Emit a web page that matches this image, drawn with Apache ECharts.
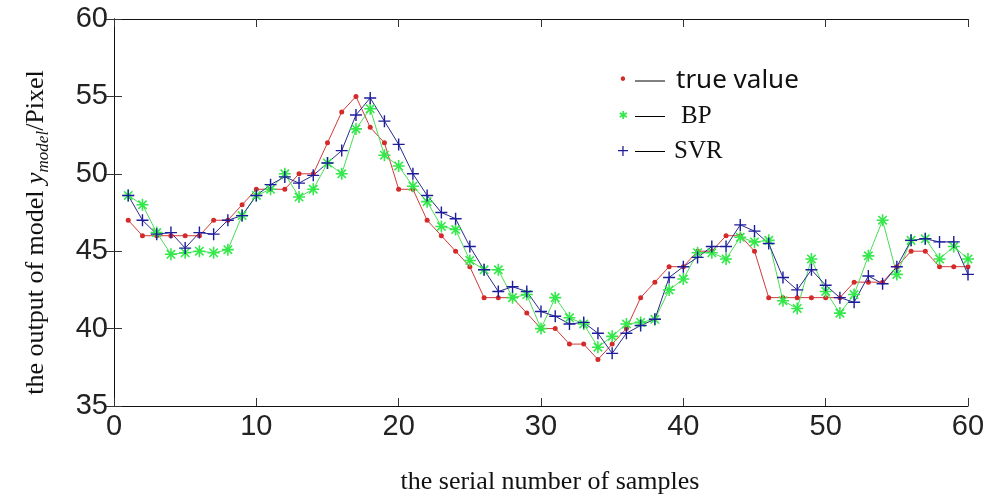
<!doctype html>
<html lang="en">
<head>
<meta charset="UTF-8">
<title>model output comparison</title>
<script src="https://cdn.jsdelivr.net/npm/echarts@6/dist/echarts.min.js"></script>
<style>
    html, body { margin: 0; padding: 0; background: #fff; }
    #chart { width: 989px; height: 500px; }
</style>
</head>
<body>
<div id="chart"></div>
<script>
// sample numbers 1..60
var samples = [];
for (var k = 1; k <= 60; k++) samples.push(k);

var trueValue = [47, 46, 46, 46, 46, 46, 47, 47, 48, 49,
    49, 49, 50, 50, 52, 54, 55, 53, 52, 49,
    49, 47, 46, 45, 44, 42, 42, 42, 41, 40,
    40, 39, 39, 38, 39, 40, 42, 43, 44, 44,
    45, 45, 46, 46, 45, 42, 42, 42, 42, 42,
    42, 43, 43, 43, 44, 45, 45, 44, 44, 44];

var bpValue = [48.6, 48.0, 46.2, 44.8, 44.9, 45.0, 44.9, 45.1, 47.3, 48.6,
    49.0, 50.0, 48.5, 49.0, 50.7, 50.0, 52.9, 54.2, 51.2, 50.5,
    49.2, 48.2, 46.6, 46.4, 44.4, 43.8, 43.8, 42.0, 42.2, 40.0,
    42.0, 40.7, 40.3, 38.8, 39.5, 40.3, 40.4, 40.6, 42.5, 43.2,
    44.9, 44.9, 44.5, 45.9, 45.6, 45.7, 41.8, 41.3, 44.5, 42.4,
    41.0, 42.2, 44.7, 47.0, 43.5, 45.7, 45.8, 44.5, 45.3, 44.5];

var svrValue = [48.6, 47.0, 46.1, 46.2, 45.2, 46.2, 46.1, 47.0, 47.3, 48.6,
    49.3, 49.8, 49.4, 49.9, 50.7, 51.5, 53.8, 54.9, 53.4, 51.9,
    50.0, 48.6, 47.5, 47.1, 45.3, 43.8, 42.4, 42.7, 42.4, 41.1,
    40.8, 40.3, 40.4, 39.7, 38.4, 39.7, 40.2, 40.6, 43.3, 44.0,
    44.6, 45.3, 45.3, 46.7, 46.3, 45.5, 43.3, 42.5, 43.8, 42.8,
    42.0, 41.7, 43.4, 42.9, 44.0, 45.7, 45.8, 45.6, 45.6, 43.5];

var seriesNames = ['true value', 'BP', 'SVR'];

function pairs(vals) {
    return samples.map(function (n, i) { return [n, vals[i]]; });
}

// marker shapes
var plusPath = 'path://M5.3,0H6.7V5.3H12V6.7H6.7V12H5.3V6.7H0V5.3H5.3Z';
var starPath = 'path://M5.2,0H6.8V12H5.2Z M0,5.2H12V6.8H0Z' +
    ' M1.23,2.37L2.37,1.23L10.77,9.63L9.63,10.77Z' +
    ' M9.63,1.23L10.77,2.37L2.37,10.77L1.23,9.63Z';

var chart = echarts.init(document.getElementById('chart'), null, {renderer: 'canvas'});

var tickFont = {fontFamily: 'Liberation Sans', fontSize: 29, color: '#222'};
var serif = 'Liberation Serif';

var option = {
    animation: false,
    backgroundColor: '#fff',
    grid: {left: 114, right: 21, top: 19, bottom: 93, containLabel: false},
    legend: {
        orient: 'vertical',
        left: 606,
        top: 63,
        itemWidth: 0,
        itemHeight: 0,
        itemGap: 10,
        itemStyle: {opacity: 0},
        selectedMode: false,
        data: seriesNames,
        formatter: function (name) {
            if (name === 'true value') return '{dot|•}{g1| }{ln| }{g2| }{sans|true value}';
            if (name === 'BP') return '{star|✱}{g1| }{ln| }{g3| }{ser|BP}';
            return '{plus|+}{g1| }{ln| }{g4| }{ser|SVR}';
        },
        textStyle: {
            rich: {
                dot: {width: 12, align: 'center', fontSize: 15, lineHeight: 35, color: '#d42a2a', fontFamily: 'DejaVu Sans', verticalAlign: 'middle'},
                star: {width: 12, align: 'center', fontSize: 11, lineHeight: 35, color: '#33e84a', fontFamily: 'DejaVu Sans', verticalAlign: 'middle'},
                plus: {width: 12, align: 'center', fontSize: 16, lineHeight: 35, color: '#1c1c9c', fontFamily: 'DejaVu Sans', verticalAlign: 'middle'},
                g1: {width: 6, fontSize: 10, lineHeight: 35},
                g2: {width: 11, fontSize: 10, lineHeight: 35},
                g3: {width: 16, fontSize: 10, lineHeight: 35},
                g4: {width: 9, fontSize: 10, lineHeight: 35},
                ln: {width: 30, height: 1, fontSize: 1, backgroundColor: '#000', verticalAlign: 'middle'},
                sans: {fontFamily: 'Noto Sans', fontSize: 26, lineHeight: 35, color: '#111', verticalAlign: 'middle'},
                ser: {fontFamily: serif, fontSize: 25, lineHeight: 35, color: '#111', verticalAlign: 'middle'}
            }
        }
    },
    xAxis: [{
        type: 'value',
        min: 0,
        max: 60,
        interval: 10,
        position: 'bottom',
        name: 'the serial number of samples',
        nameLocation: 'middle',
        nameGap: 63,
        nameTextStyle: {fontFamily: serif, fontSize: 26, color: '#111', padding: [0, 0, 0, 18]},
        axisLine: {lineStyle: {color: '#111', width: 1}},
        axisTick: {inside: true, length: 8, lineStyle: {color: '#333'}},
        axisLabel: Object.assign({margin: 6}, tickFont),
        splitLine: {show: false}
    }, {
        type: 'value',
        min: 0,
        max: 60,
        interval: 10,
        position: 'top',
        axisLine: {show: true, lineStyle: {color: '#111', width: 1}},
        axisTick: {show: true, inside: true, length: 8, lineStyle: {color: '#333'}},
        axisLabel: {show: false},
        splitLine: {show: false}
    }],
    yAxis: [{
        type: 'value',
        min: 35,
        max: 60,
        interval: 5,
        position: 'left',
        name: '{n|the output of model }{i|y}{s|model}{n|/Pixel}',
        nameLocation: 'middle',
        nameRotate: 90,
        nameGap: 62,
        nameTextStyle: {
            padding: [0, 40, 0, 0],
            rich: {
                n: {fontFamily: serif, fontSize: 26, color: '#111', lineHeight: 32, verticalAlign: 'middle'},
                i: {fontFamily: serif, fontSize: 26, fontStyle: 'italic', color: '#111', lineHeight: 32, verticalAlign: 'middle'},
                s: {fontFamily: serif, fontSize: 17, fontStyle: 'italic', color: '#111', lineHeight: 32, verticalAlign: 'bottom'}
            }
        },
        axisLine: {show: true, lineStyle: {color: '#111', width: 1}},
        axisTick: {show: true, inside: true, length: 8, lineStyle: {color: '#333'}},
        axisLabel: Object.assign({margin: 6}, tickFont),
        splitLine: {show: false}
    }, {
        type: 'value',
        min: 35,
        max: 60,
        interval: 5,
        position: 'right',
        axisLine: {show: true, lineStyle: {color: '#111', width: 1}},
        axisTick: {show: true, inside: true, length: 8, lineStyle: {color: '#333'}},
        axisLabel: {show: false},
        splitLine: {show: false}
    }],
    series: [{
        name: 'true value',
        type: 'line',
        data: pairs(trueValue),
        symbol: 'circle',
        symbolSize: 5,
        itemStyle: {color: '#d42a2a'},
        lineStyle: {color: '#d43a3a', width: 1},
        clip: true
    }, {
        name: 'BP',
        type: 'line',
        data: pairs(bpValue),
        symbol: starPath,
        symbolSize: 12,
        itemStyle: {color: '#33e84a'},
        lineStyle: {color: '#4ade55', width: 1},
        clip: true
    }, {
        name: 'SVR',
        type: 'line',
        data: pairs(svrValue),
        symbol: plusPath,
        symbolSize: 12,
        itemStyle: {color: '#1c1c9c'},
        lineStyle: {color: '#2a2a8c', width: 1},
        clip: true
    }]
};

chart.setOption(option);
</script>
</body>
</html>
